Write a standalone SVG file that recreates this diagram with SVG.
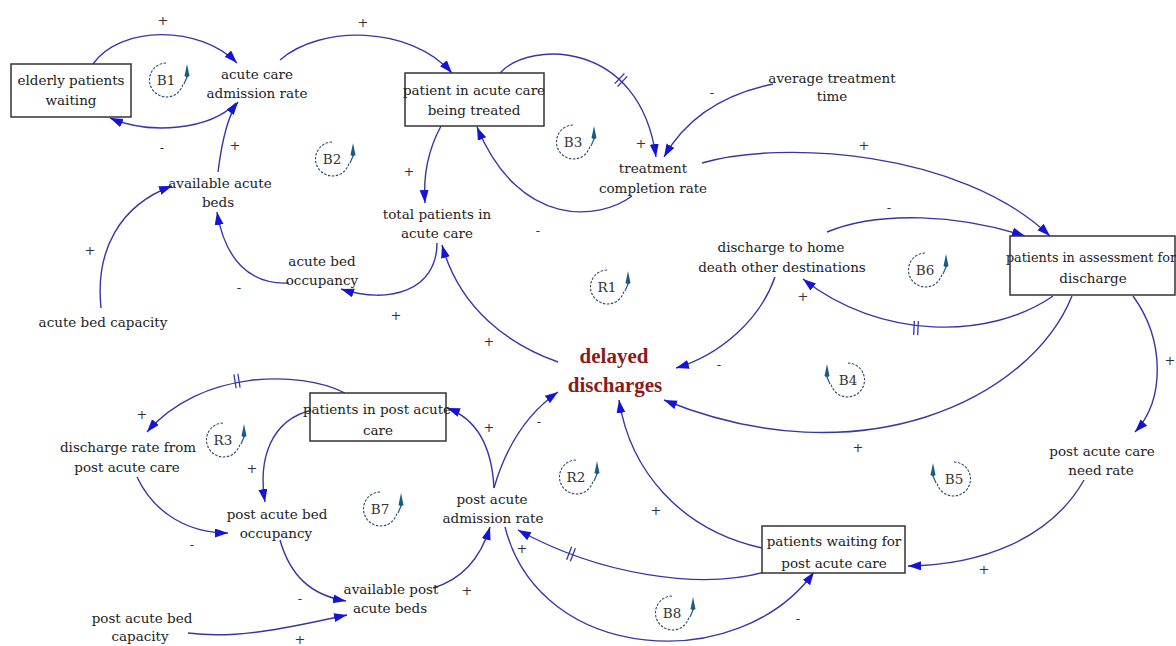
<svg xmlns="http://www.w3.org/2000/svg" width="1176" height="646" viewBox="0 0 1176 646">
<defs>
<marker id="ah" markerWidth="14" markerHeight="10" refX="13" refY="4.5" orient="auto" markerUnits="userSpaceOnUse"><path d="M0,0 L13,4.5 L0,9 Z" fill="#1414d8"/></marker>
<g id="lpR"><path d="M0,-17 A17,17 0 1,0 17,4" fill="none" stroke="#2a4a6a" stroke-width="1.1" stroke-dasharray="2.5,1.5"/><path d="M21,-16 L18.5,-4 L21,-2.5 L23.5,-4 Z" fill="#1b5b86"/><path d="M21,-3 L18,4" stroke="#1b5b86" stroke-width="1.2"/></g>
</defs>
<style>
text{font-family:"DejaVu Serif","Liberation Serif",serif;}
.n text{font-size:13.5px;fill:#222;text-anchor:middle}
.box{fill:#fff;stroke:#333;stroke-width:1.5}
.c path{fill:none;stroke:#3636a8;stroke-width:1.4;marker-end:url(#ah)}
.d path{fill:none;stroke:#3636a8;stroke-width:1.3}
.p text{font-size:13px;fill:#333;text-anchor:middle}
.l text{font-size:13.5px;fill:#333;text-anchor:middle}
.dd text{font-family:"Liberation Serif",serif;font-size:21px;font-weight:bold;fill:#8b1a1a;text-anchor:middle}
</style>
<rect width="1176" height="646" fill="#fff"/>

<g id="connectors" class="c">
<path d="M93,64 C120,25 200,25 237,63"/>
<path d="M236,103 C210,130 150,135 110,118"/>
<path d="M218,172 C222,140 228,115 238,102"/>
<path d="M101,308 C95,250 120,205 172,186"/>
<path d="M289,283 C250,285 225,260 217,212"/>
<path d="M437,243 C437,290 390,305 341,289"/>
<path d="M558,362 C510,345 460,310 442,245"/>
<path d="M280,60 C320,25 410,25 452,73"/>
<path d="M441,126 C428,150 423,175 425,203"/>
<path d="M500,73 C530,40 640,40 656,157"/>
<path d="M632,196 C600,220 520,230 477,127"/>
<path d="M773,84 C720,95 685,120 664,157"/>
<path d="M702,163 C780,140 960,150 1050,236"/>
<path d="M827,232 C880,210 960,215 1025,236"/>
<path d="M1053,296 C990,340 880,340 803,279"/>
<path d="M775,277 C760,320 720,355 676,368"/>
<path d="M1072,296 C1030,400 860,480 664,400"/>
<path d="M1133,296 C1165,340 1165,400 1135,432"/>
<path d="M1084,480 C1050,540 980,565 908,566"/>
<path d="M765,572 C700,590 600,575 518,530"/>
<path d="M762,548 C680,530 630,470 619,400"/>
<path d="M494,488 C492,450 480,420 447,408"/>
<path d="M494,488 C505,450 525,415 558,392"/>
<path d="M345,393 C300,370 200,370 147,432"/>
<path d="M312,410 C270,420 258,460 265,502"/>
<path d="M137,477 C155,515 190,533 228,533"/>
<path d="M280,540 C290,575 310,595 346,601"/>
<path d="M188,633 C240,640 300,625 347,615"/>
<path d="M433,588 C460,580 480,560 490,527"/>
<path d="M505,527 C540,665 740,675 814,572"/>
</g>

<g id="delays" class="d">
<path transform="translate(621,80) rotate(44)" d="M-2,-7 V7 M2,-7 V7"/>
<path transform="translate(916,328) rotate(3)" d="M-2,-7 V7 M2,-7 V7"/>
<path transform="translate(571,554) rotate(21)" d="M-2,-7 V7 M2,-7 V7"/>
<path transform="translate(237,381) rotate(-9)" d="M-2,-7 V7 M2,-7 V7"/>
</g>

<g id="polarities" class="p">
<text x="163" y="25">+</text>
<text x="162" y="152">-</text>
<text x="235" y="150">+</text>
<text x="90" y="255">+</text>
<text x="239" y="292">-</text>
<text x="396" y="320">+</text>
<text x="489" y="346">+</text>
<text x="363" y="27">+</text>
<text x="409" y="176">+</text>
<text x="641" y="148">+</text>
<text x="538" y="235">-</text>
<text x="712" y="97">-</text>
<text x="864" y="150">+</text>
<text x="889" y="212">-</text>
<text x="803" y="301">+</text>
<text x="719" y="369">-</text>
<text x="858" y="452">+</text>
<text x="1170" y="365">+</text>
<text x="984" y="574">+</text>
<text x="522" y="553">+</text>
<text x="656" y="515">+</text>
<text x="798" y="623">-</text>
<text x="539" y="426">-</text>
<text x="489" y="432">+</text>
<text x="142" y="419">+</text>
<text x="252" y="473">+</text>
<text x="192" y="549">-</text>
<text x="300" y="603">-</text>
<text x="300" y="644">+</text>
<text x="467" y="595">+</text>
</g>

<g id="loops" class="l">
<g id="loop-B1"><use href="#lpR" x="166" y="80"/><text x="166" y="85">B1</text></g>
<g id="loop-B2"><use href="#lpR" x="332" y="159"/><text x="332" y="164">B2</text></g>
<g id="loop-B3"><use href="#lpR" x="573" y="142"/><text x="573" y="147">B3</text></g>
<g id="loop-R1"><use href="#lpR" x="607" y="287"/><text x="607" y="292">R1</text></g>
<g id="loop-B6"><use href="#lpR" x="925" y="270"/><text x="925" y="275">B6</text></g>
<g id="loop-B4"><use href="#lpR" transform="translate(848,380) scale(-1,1)"/><text x="848" y="385">B4</text></g>
<g id="loop-R3"><use href="#lpR" x="223" y="440"/><text x="223" y="445">R3</text></g>
<g id="loop-B7"><use href="#lpR" x="380" y="509"/><text x="380" y="514">B7</text></g>
<g id="loop-R2"><use href="#lpR" x="576" y="477"/><text x="576" y="482">R2</text></g>
<g id="loop-B5"><use href="#lpR" transform="translate(954,479) scale(-1,1)"/><text x="954" y="484">B5</text></g>
<g id="loop-B8"><use href="#lpR" x="672" y="613"/><text x="672" y="618">B8</text></g>
</g>

<g id="elderly-patients-waiting" class="n"><rect class="box" x="11" y="64" width="120" height="53"/><text x="71" y="85">elderly patients</text><text x="71" y="105">waiting</text></g>
<g id="acute-care-admission-rate" class="n"><text x="257" y="79">acute care</text><text x="257" y="98">admission rate</text></g>
<g id="patient-in-acute-care" class="n"><rect class="box" x="405" y="73" width="139" height="53"/><text x="474" y="95">patient in acute care</text><text x="474" y="115">being treated</text></g>
<g id="treatment-completion-rate" class="n"><text x="653" y="173">treatment</text><text x="653" y="193">completion rate</text></g>
<g id="average-treatment-time" class="n"><text x="832" y="83">average treatment</text><text x="832" y="101">time</text></g>
<g id="total-patients-in-acute-care" class="n"><text x="437" y="219">total patients in</text><text x="437" y="238">acute care</text></g>
<g id="available-acute-beds" class="n"><text x="220" y="188">available acute</text><text x="218" y="207">beds</text></g>
<g id="acute-bed-occupancy" class="n"><text x="322" y="266">acute bed</text><text x="322" y="285">occupancy</text></g>
<g id="acute-bed-capacity" class="n"><text x="103" y="327">acute bed capacity</text></g>
<g id="discharge-to-home" class="n"><text x="781" y="252">discharge to home</text><text x="782" y="272">death other destinations</text></g>
<g id="patients-in-assessment" class="n"><rect class="box" x="1010" y="236" width="165" height="59"/><text x="1091" y="262" style="font-size:12.8px">patients in assessment for</text><text x="1093" y="283">discharge</text></g>
<g id="delayed-discharges" class="dd"><text x="614" y="363">delayed</text><text x="615" y="392">discharges</text></g>
<g id="patients-in-post-acute-care" class="n"><rect class="box" x="310" y="393" width="136" height="48"/><text x="377" y="414">patients in post acute</text><text x="378" y="435">care</text></g>
<g id="discharge-rate-from-post-acute-care" class="n"><text x="128" y="452">discharge rate from</text><text x="127" y="472">post acute care</text></g>
<g id="post-acute-bed-occupancy" class="n"><text x="277" y="519">post acute bed</text><text x="276" y="538">occupancy</text></g>
<g id="post-acute-admission-rate" class="n"><text x="492" y="504">post acute</text><text x="493" y="523">admission rate</text></g>
<g id="available-post-acute-beds" class="n"><text x="391" y="594">available post</text><text x="390" y="613">acute beds</text></g>
<g id="post-acute-bed-capacity" class="n"><text x="142" y="623">post acute bed</text><text x="140" y="641">capacity</text></g>
<g id="patients-waiting-for-post-acute-care" class="n"><rect class="box" x="762" y="526" width="143" height="47"/><text x="834" y="546">patients waiting for</text><text x="834" y="568">post acute care</text></g>
<g id="post-acute-care-need-rate" class="n"><text x="1102" y="456">post acute care</text><text x="1101" y="475">need rate</text></g>
</svg>
